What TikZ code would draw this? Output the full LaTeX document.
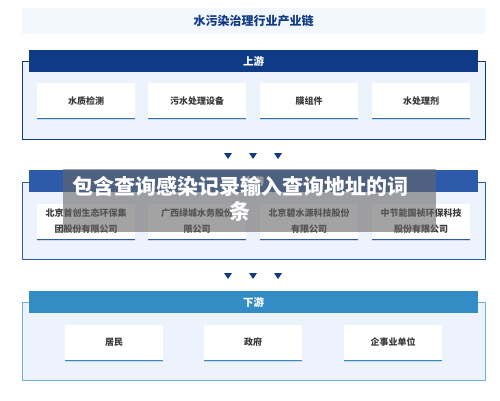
\documentclass[tikz,border=0pt]{standalone}
\usepackage{fontspec}
\setmainfont{Noto Sans CJK SC}
\usetikzlibrary{positioning,shadows}
\definecolor{navy}{HTML}{0F3A85}
\definecolor{midblue}{HTML}{2D5BA9}
\definecolor{skyblue}{HTML}{338CC3}
\definecolor{paleblue}{HTML}{EDF3FD}
\definecolor{titlebg}{HTML}{F3F7FE}
\definecolor{cardtext}{HTML}{3A3A3A}
\tikzset{
	band/.style={fill=#1, minimum width=449pt, minimum height=22pt, inner sep=0pt, text=white, font=\fontsize{10.5}{12}\selectfont\bfseries},
	frame/.style={draw=#1, line width=0.8pt, fill=paleblue},
	card/.style={fill=white, minimum width=98pt, minimum height=35pt, inner sep=0pt, align=center, text=cardtext,
		font=\fontsize{9}{16}\selectfont\bfseries, drop shadow={shadow xshift=0pt, shadow yshift=-1.5pt, opacity=0.25}},
	cardline/.style={draw=#1, line width=1.4pt},
	tip/.style={fill=navy},
}
\begin{document}
\begin{tikzpicture}[x=1pt,y=-1pt,line join=round]
	\useasboundingbox[fill=white](0,0)rectangle(500,401);
	% title
	\node[fill=titlebg, minimum width=463pt, minimum height=26pt, text=navy, font=\fontsize{12}{14}\selectfont\bfseries] (title) at (253.5,21) {水污染治理行业产业链};
	% upstream
	\draw[frame=navy] (22,61) rectangle (485,139);
	\node[band=navy] (up) at (253.5,61) {上游};
	\foreach \x/\t [count=\i] in {86/水质检测,197/污水处理设备,309/膜组件,421/水处理剂}{
		\node[card] (u\i) at (\x,101) {\t};
		\draw[cardline=skyblue!80!navy] (u\i.south west)--(u\i.south east);
	}
	% arrows
	\foreach \y [count=\j] in {153,273}
		\foreach \x in {228,253,278}
			\fill[tip] (\x-4,\y)--(\x+4,\y)--(\x,\y+6)--cycle;
	% midstream
	\draw[frame=midblue] (22,182) rectangle (485,259);
	\node[band=midblue] (mid) at (253.5,181) {中游};
	\foreach \x/\t [count=\i] in {86/北京首创生态环保集\\团股份有限公司,197/广西绿城水务股份\\限公司,309/北京碧水源科技股份\\有限公司,421/中节能国祯环保科技\\股份有限公司}{
		\node[card] (m\i) at (\x,221.5) {\t};
		\draw[cardline=midblue] (m\i.south west)--(m\i.south east);
	}
	% downstream
	\draw[frame=skyblue!70] (22,302) rectangle (485,380);
	\node[band=skyblue] (down) at (253.5,302) {下游};
	\foreach \x/\t [count=\i] in {114/居民,253/政府,393/企事业单位}{
		\node[card] (d\i) at (\x,342.5) {\t};
		\draw[cardline=skyblue] (d\i.south west)--(d\i.south east);
	}
	% overlay
	\fill[black!60, opacity=0.6] (63,169) rectangle (436,232);
	\node[text=white, align=center, font=\fontsize{21}{25}\selectfont\bfseries] (mark) at (240,199) {包含查询感染记录输入查询地址的词\\条};
\end{tikzpicture}
\end{document}
